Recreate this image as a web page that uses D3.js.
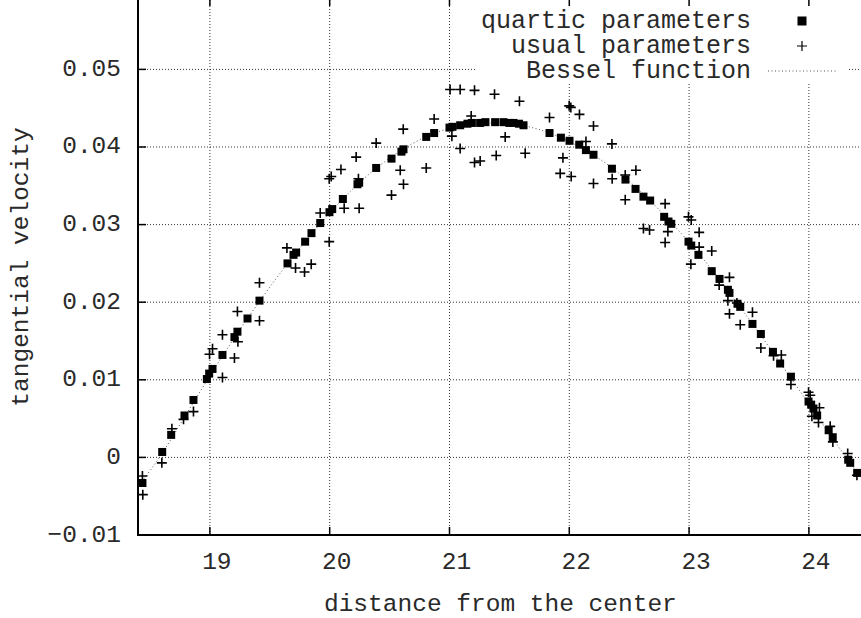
<!DOCTYPE html>
<html><head><meta charset="utf-8">
<script src="https://cdn.jsdelivr.net/npm/d3@7"></script>
<style>body{margin:0;background:#fff}svg{display:block}text{font-family:"Liberation Mono","DejaVu Sans Mono",monospace;fill:#2a2a2a}</style>
</head><body>
<svg id="c" width="861" height="618"></svg>
<script>
const xTicks = [19, 20, 21, 22, 23, 24];
const yTicks = [-0.01, 0, 0.01, 0.02, 0.03, 0.04, 0.05];
const yTickLabels = ["\u22120.01", "0", "0.01", "0.02", "0.03", "0.04", "0.05"];
const seriesNames = ["quartic parameters", "usual parameters", "Bessel function"];
const xTitle = "distance from the center";
const yTitle = "tangential velocity";

const quarticX = [18.437,18.602,18.677,18.788,18.863,18.975,18.994,19.022,19.105,19.205,19.230,19.314,19.414,19.648,19.698,19.720,19.795,19.848,19.921,19.998,20.021,20.110,20.232,20.246,20.388,20.516,20.599,20.616,20.806,20.872,21.000,21.025,21.089,21.150,21.187,21.256,21.300,21.381,21.451,21.500,21.534,21.580,21.618,21.835,21.930,22.002,22.083,22.139,22.202,22.356,22.469,22.553,22.619,22.675,22.792,22.828,22.851,22.995,23.018,23.078,23.189,23.254,23.324,23.337,23.404,23.427,23.529,23.599,23.700,23.760,23.850,23.997,24.019,24.038,24.069,24.165,24.199,24.328,24.345,24.403];
const quarticY = [-0.0033,0.0007,0.0029,0.0054,0.0074,0.0101,0.0108,0.0114,0.0132,0.0155,0.0162,0.0179,0.0202,0.0250,0.0261,0.0264,0.0278,0.0289,0.0302,0.0316,0.0320,0.0333,0.0352,0.0354,0.0373,0.0385,0.0394,0.0397,0.0413,0.0418,0.0425,0.0426,0.0428,0.0430,0.0431,0.0431,0.0432,0.0432,0.0432,0.0431,0.0431,0.0430,0.0428,0.0418,0.0412,0.0408,0.0403,0.0396,0.0390,0.0372,0.0358,0.0346,0.0336,0.0331,0.0310,0.0304,0.0301,0.0278,0.0273,0.0261,0.0240,0.0230,0.0216,0.0212,0.0198,0.0194,0.0172,0.0159,0.0136,0.0121,0.0104,0.0072,0.0068,0.0063,0.0054,0.0035,0.0026,-0.0003,-0.0007,-0.0020];

const usualX = [18.437,18.440,18.599,18.683,18.780,18.863,19.105,18.997,19.022,19.205,19.105,19.234,19.230,19.414,19.414,19.643,19.715,19.790,19.846,19.996,19.921,19.996,20.013,20.094,20.121,20.246,20.240,20.221,20.388,20.516,20.616,20.589,20.614,20.806,20.872,21.005,21.089,21.209,21.376,21.584,21.181,21.020,21.089,21.209,21.256,21.390,21.465,21.632,21.835,21.999,22.013,22.085,22.202,22.139,21.947,21.924,22.016,22.202,22.356,22.358,22.467,22.556,22.467,22.800,22.619,22.670,22.823,22.800,22.995,23.018,23.084,23.084,23.189,23.015,23.337,23.251,23.324,23.399,23.529,23.337,23.427,23.599,23.705,23.770,23.850,23.997,24.011,24.088,24.025,24.080,24.178,24.200,24.324,24.401];
const usualY = [-0.0024,-0.0048,-0.0007,0.0037,0.0049,0.0059,0.0103,0.0133,0.0140,0.0128,0.0158,0.0149,0.0188,0.0176,0.0225,0.0270,0.0244,0.0239,0.0249,0.0278,0.0315,0.0359,0.0362,0.0371,0.0321,0.0321,0.0359,0.0387,0.0405,0.0338,0.0352,0.0370,0.0423,0.0373,0.0436,0.0474,0.0474,0.0473,0.0468,0.0459,0.0440,0.0414,0.0398,0.0380,0.0382,0.0389,0.0413,0.0392,0.0438,0.0453,0.0451,0.0442,0.0427,0.0407,0.0386,0.0366,0.0362,0.0353,0.0404,0.0359,0.0364,0.0370,0.0332,0.0327,0.0295,0.0293,0.0291,0.0277,0.0310,0.0306,0.0290,0.0271,0.0266,0.0249,0.0232,0.0222,0.0202,0.0199,0.0187,0.0185,0.0171,0.0141,0.0131,0.0132,0.0094,0.0084,0.0080,0.0064,0.0053,0.0045,0.0040,0.0020,0.0005,-0.0023];

const besselX = [18.40,18.60,18.80,19.00,19.20,19.40,19.60,19.80,20.00,20.20,20.40,20.60,20.80,21.00,21.20,21.40,21.60,21.80,22.00,22.20,22.40,22.60,22.80,23.00,23.20,23.40,23.60,23.80,24.00,24.20,24.45];
const besselY = [-0.0038,0.0005,0.0055,0.0105,0.0153,0.0198,0.0240,0.0279,0.0315,0.0347,0.0374,0.0396,0.0413,0.0424,0.0430,0.0431,0.0428,0.0420,0.0407,0.0390,0.0368,0.0342,0.0311,0.0277,0.0240,0.0199,0.0157,0.0113,0.0069,0.0024,-0.0029];

const svg = d3.select("#c");
const L = 138, B = 535, T = -2, R = 862.8;
const x = d3.scaleLinear().domain([18.4, 24.45]).range([L, R]);
const y = d3.scaleLinear().domain([-0.01, 0.0592]).range([B, T]);
const FS = 24.5, LFS = 25;

// legend box extent
const legL = 477, legR = 849, legB = 83;

// grid
const g = svg.append("g");
yTicks.forEach(t => {
  if (t === -0.01) return;
  const yy = y(t);
  const xEnd = (yy < legB) ? legL : R;
  g.append("line").attr("x1", L).attr("x2", xEnd).attr("y1", yy).attr("y2", yy)
    .attr("stroke", "#333").attr("stroke-width", 1).attr("stroke-dasharray", "1,2");
  if (yy < legB) {
    g.append("line").attr("x1", legR).attr("x2", R).attr("y1", yy).attr("y2", yy)
      .attr("stroke", "#333").attr("stroke-width", 1).attr("stroke-dasharray", "1,2");
  }
});
xTicks.forEach(t => {
  const xx = x(t);
  const yTop = (xx > legL && xx < legR) ? legB : T;
  g.append("line").attr("x1", xx).attr("x2", xx).attr("y1", B).attr("y2", yTop)
    .attr("stroke", "#333").attr("stroke-width", 1).attr("stroke-dasharray", "1,2");
});

// Bessel line
const line = d3.line().x(d => x(d[0])).y(d => y(d[1])).curve(d3.curveMonotoneX);
svg.append("path").datum(besselX.map((v, i) => [v, besselY[i]]))
  .attr("d", line).attr("fill", "none").attr("stroke", "#555")
  .attr("stroke-width", 1).attr("stroke-dasharray", "1,2.5");

// usual params: plus
const plusSize = 5;
svg.append("g").selectAll("path").data(usualX.map((v, i) => [v, usualY[i]])).join("path")
  .attr("d", d => `M${x(d[0]) - plusSize},${y(d[1])}H${x(d[0]) + plusSize}M${x(d[0])},${y(d[1]) - plusSize}V${y(d[1]) + plusSize}`)
  .attr("stroke", "#000").attr("stroke-width", 1.6).attr("fill", "none");

// quartic: squares
const sq = 8;
svg.append("g").selectAll("rect").data(quarticX.map((v, i) => [v, quarticY[i]])).join("rect")
  .attr("x", d => x(d[0]) - sq / 2).attr("y", d => y(d[1]) - sq / 2)
  .attr("width", sq).attr("height", sq).attr("fill", "#000");

// axes borders
svg.append("line").attr("x1", L).attr("x2", L).attr("y1", T).attr("y2", B + 1).attr("stroke", "#000").attr("stroke-width", 2);
svg.append("line").attr("x1", L - 1).attr("x2", R).attr("y1", B).attr("y2", B).attr("stroke", "#000").attr("stroke-width", 2);

// ticks
const tickG = svg.append("g");
xTicks.forEach(t => {
  const xx = x(t);
  tickG.append("line").attr("x1", xx).attr("x2", xx).attr("y1", B).attr("y2", B - 8).attr("stroke", "#000").attr("stroke-width", 1.5);
  tickG.append("line").attr("x1", xx).attr("x2", xx).attr("y1", T).attr("y2", T + 8).attr("stroke", "#000").attr("stroke-width", 1.5);
  tickG.append("text").attr("x", xx + 7).attr("y", 562).attr("text-anchor", "middle")
    .attr("dominant-baseline", "central").attr("font-size", FS).text(String(t));
});
yTicks.forEach((t, i) => {
  const yy = y(t);
  tickG.append("line").attr("x1", L).attr("x2", L + 8).attr("y1", yy).attr("y2", yy).attr("stroke", "#000").attr("stroke-width", 1.5);
  tickG.append("text").attr("x", 121).attr("y", yy).attr("text-anchor", "end")
    .attr("dominant-baseline", "central").attr("font-size", FS).text(yTickLabels[i]);
});

// titles
svg.append("text").attr("x", (L + R) / 2).attr("y", 604).attr("text-anchor", "middle")
  .attr("dominant-baseline", "central").attr("font-size", FS).text(xTitle);
svg.append("text").attr("transform", `translate(21,267) rotate(-90)`).attr("text-anchor", "middle")
  .attr("dominant-baseline", "central").attr("font-size", FS).text(yTitle);

// legend
const leg = svg.append("g");
const rows = [21, 46, 71];
rows.forEach((ry, i) => {
  leg.append("text").attr("x", 751).attr("y", ry).attr("text-anchor", "end")
    .attr("dominant-baseline", "central").attr("font-size", LFS).text(seriesNames[i]);
});
leg.append("rect").attr("x", 802 - 4.5).attr("y", rows[0] - 4.5).attr("width", 9).attr("height", 9).attr("fill", "#000");
leg.append("path").attr("d", `M${802 - 5},${rows[1]}H${802 + 5}M802,${rows[1] - 5}V${rows[1] + 5}`)
  .attr("stroke", "#000").attr("stroke-width", 1.2);
leg.append("line").attr("x1", 768).attr("x2", 836).attr("y1", rows[2]).attr("y2", rows[2])
  .attr("stroke", "#555").attr("stroke-width", 1).attr("stroke-dasharray", "1,2.5");
</script>
</body></html>
